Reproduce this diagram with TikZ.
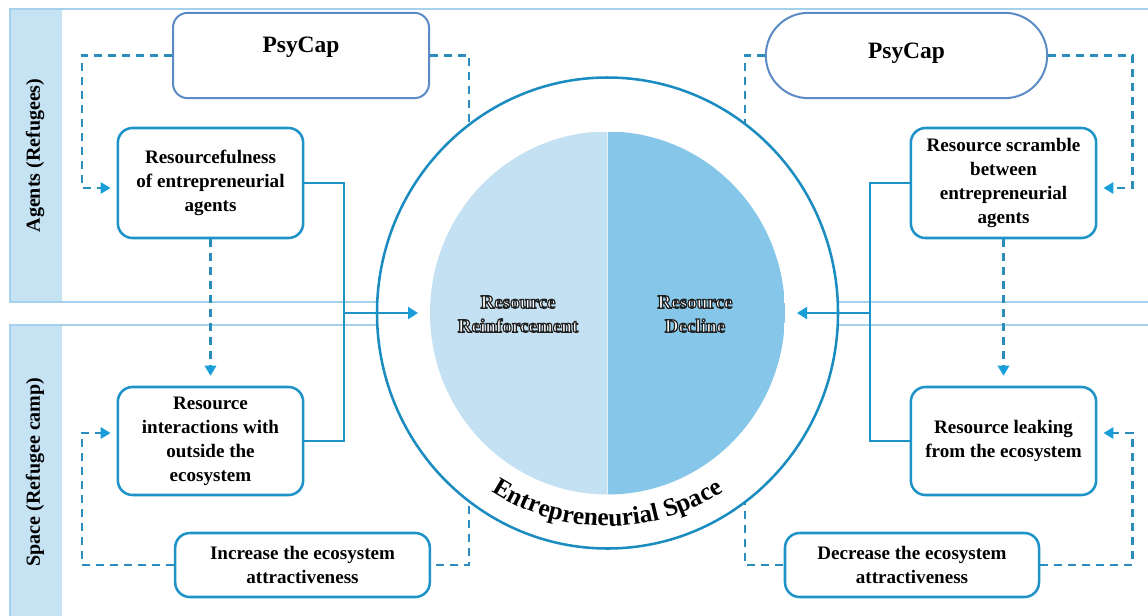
\documentclass[tikz,border=0pt]{standalone}
\usepackage{fontspec}
\setmainfont{Liberation Serif}
\usetikzlibrary{arrows.meta,calc,decorations.text,shapes.geometric}
\definecolor{boxblue}{HTML}{1E93C8}
\definecolor{dashblue}{HTML}{2A8DBB}
\definecolor{arrblue}{HTML}{1A9EDA}
\definecolor{psyblue}{HTML}{5A8BC4}
\definecolor{ringblue}{HTML}{1A8CC0}
\definecolor{panelline}{HTML}{A5D1EC}
\definecolor{bandfill}{HTML}{C6E3F4}
\definecolor{discL}{HTML}{C3E1F3}
\definecolor{discR}{HTML}{86C7E9}

% white letters with a dark outline (PDF text render mode 2: fill + stroke)
\newcommand{\olon}{\special{pdf:literal direct 2 Tr 0.9 w 0.13 0.13 0.13 RG 1 1 1 rg}}
\newcommand{\oloff}{\special{pdf:literal direct 0 Tr}}

\begin{document}
\begin{tikzpicture}[x=0.75pt, y=-0.75pt,
  box/.style={draw=boxblue, line width=1.9pt, rounded corners=11pt, fill=white, align=center, inner sep=0pt, font=\fontsize{14.3}{18}\selectfont\bfseries},
  psybox/.style={draw=psyblue, line width=1.5pt, fill=white, inner sep=0pt, text height=12pt, font=\fontsize{17.6}{20}\selectfont\bfseries},
  intext/.style={align=center, inner sep=0pt, text=white, font=\fontsize{14.3}{18}\selectfont\bfseries},
  sidelbl/.style={rotate=90, inner sep=0pt, font=\fontsize{15}{18}\selectfont\bfseries},
  dashline/.style={draw=dashblue, line width=1.6pt, dash pattern=on 6pt off 4.5pt},
  dasharr/.style={dashline, -{Triangle[length=7.5pt, width=8.5pt, fill=arrblue, color=arrblue]}},
  solidline/.style={draw=boxblue, line width=1.6pt},
  solidarr/.style={solidline, -{Triangle[length=7.5pt, width=9pt, fill=arrblue, color=arrblue]}},
  panel/.style={draw=panelline, line width=1.5pt},
]
\useasboundingbox (0,0) rectangle (1148,615);
\clip (0,0) rectangle (1148,615);
\fill[white] (0,0) rectangle (1148,615);

% panels
\fill[bandfill] (10,9) rectangle (62,302);
\fill[bandfill] (10,325) rectangle (62,640);
\draw[panel] (1160,9) -- (10,9) -- (10,302) -- (1160,302);
\draw[panel] (1160,325) -- (10,325) -- (10,640);
\node[sidelbl] (lblA) at (35,155.5) {Agents (Refugees)};
\node[sidelbl] (lblS) at (35,472) {Space (Refugee camp)};

% boxes
\node[psybox, rounded corners=11pt, minimum width=192pt, minimum height=64pt, text depth=15.8pt] (psyL) at (301,55.5) {PsyCap};
\node[psybox, rounded corners=31.9pt, minimum width=211pt, minimum height=64pt, text depth=7pt] (psyR) at (906.5,55.5) {PsyCap};

\node[box, minimum width=139pt, minimum height=82.5pt] (res) at (210.5,183) {Resourcefulness\\of entrepreneurial\\agents};
\node[box, minimum width=139pt, minimum height=81pt] (int) at (210.5,441) {Resource\\interactions with\\outside the\\ecosystem};
\node[box, minimum width=191pt, minimum height=48pt] (incr) at (302.5,565) {Increase the ecosystem\\attractiveness};

\node[box, minimum width=139pt, minimum height=82.5pt] (scr) at (1003.5,183) {Resource scramble\\between\\entrepreneurial\\agents};
\node[box, minimum width=139pt, minimum height=81pt] (leak) at (1003.5,441) {Resource leaking\\from the ecosystem};
\node[box, minimum width=190.5pt, minimum height=48pt] (decr) at (912,565) {Decrease the ecosystem\\attractiveness};

% dashed connectors (left)
\draw[dasharr] (psyL.west) -| ($(res.west)+(-35,5)$) -- ($(res.west)+(-6,5)$);
\draw[dashline] (psyL.east) -| ($(incr.east)+(38,0)$) -- (incr.east);
\draw[dasharr] (res.south) -- ($(int.north)+(0,-10)$);
\draw[dasharr] (incr.west) -| ($(int.west)+(-35,-8)$) -- ($(int.west)+(-6,-8)$);

% dashed connectors (right)
\draw[dasharr] (psyR.east) -| ($(scr.east)+(35,5)$) -- ($(scr.east)+(6,5)$);
\draw[dashline] (psyR.west) -| ($(decr.west)+(-39,0)$) -- (decr.west);
\draw[dasharr] (scr.south) -- ($(leak.north)+(0,-10)$);
\draw[dasharr] (decr.east) -| ($(leak.east)+(35,-8)$) -- ($(leak.east)+(6,-8)$);

% entrepreneurial space
\coordinate (cc) at (607.5,313);
\draw[draw=ringblue, line width=1.9pt, fill=white] (cc) ellipse [x radius=230.5, y radius=235.5];
\node[ellipse, minimum width=266.25pt, minimum height=272.25pt, inner sep=0pt, outer sep=0pt,
  path picture={
    \fill[discL] (path picture bounding box.south west) rectangle (path picture bounding box.north);
    \fill[discR] (path picture bounding box.north) rectangle (path picture bounding box.south east);
  }] (disc) at (cc) {};
\draw[draw=white!55!discL, line width=0.6pt] (disc.north) -- (disc.south);

\node[intext] (rrT) at (518,314) {\olon Resource\oloff\\\olon Reinforcement\oloff};
\node[intext] (rdT) at (695,314) {\olon Resource\oloff\\\olon Decline\oloff};

\path[decorate, decoration={text along path, text align=center,
  text={|\fontsize{19}{19}\selectfont\bfseries|Entrepreneurial Space}}]
  ($(cc)+(160:213)$) arc[start angle=160, end angle=20, radius=213];

% solid connectors
\coordinate (jL) at (344,313);
\draw[solidline] (res.east) -| (jL) |- (int.east);
\draw[solidarr] (jL) -- ($(disc.west)+(-12,0)$);
\coordinate (jR) at (870,313);
\draw[solidline] (scr.west) -| (jR) |- (leak.west);
\draw[solidarr] (jR) -- ($(disc.east)+(12,0)$);
\end{tikzpicture}
\end{document}
